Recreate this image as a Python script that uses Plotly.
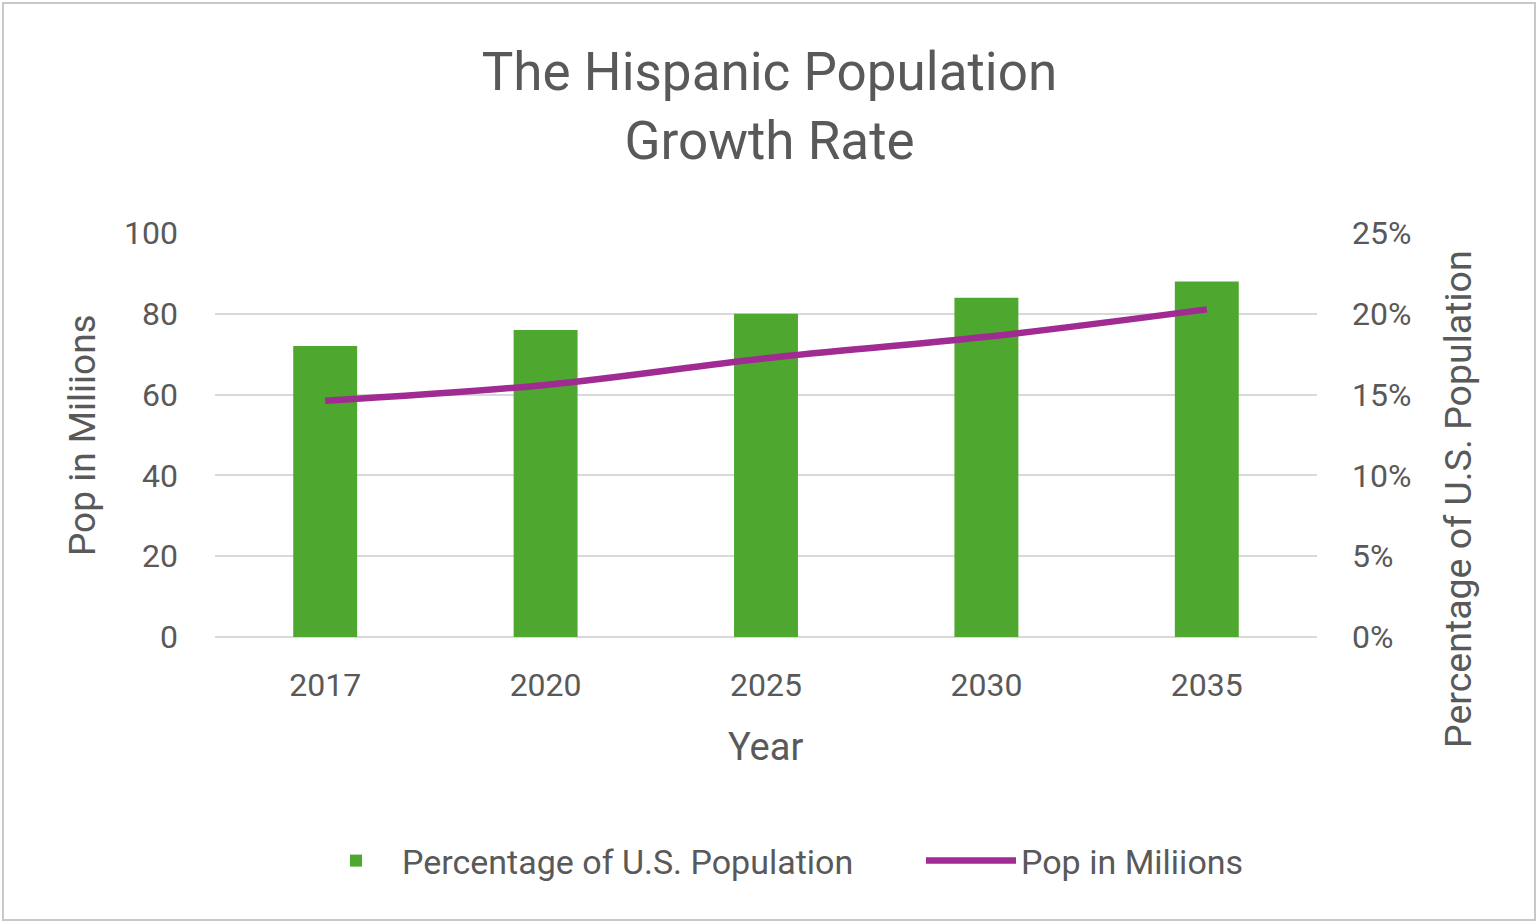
import plotly.graph_objects as go

years = ["2017", "2020", "2025", "2030", "2035"]
pct_us_population = [0.18, 0.19, 0.20, 0.21, 0.22]
pop_millions = [58.5, 62.4, 69.0, 74.3, 81.1]
left_ticks = [0, 20, 40, 60, 80, 100]
right_ticks = [0, 0.05, 0.10, 0.15, 0.20, 0.25]

W, H = 1539, 924
L, R, T, B = 215, 222, 233, 287
FONT = "Roboto"
GRAY = "#595959"

fig = go.Figure()
fig.add_trace(go.Bar(
    x=years, y=pct_us_population, name="Percentage of U.S. Population",
    marker=dict(color="#4EA72E", line=dict(width=0)), yaxis="y", legend="legend",
))
fig.add_trace(go.Scatter(
    x=years, y=pop_millions, name="Pop in Miliions", mode="lines",
    line=dict(color="#A02B93", width=6.5, shape="spline"), yaxis="y2", legend="legend2",
))

pw = W - L - R
ph = H - T - B


def px_x(x):
    return (x - L) / pw


def px_y(y):
    return 1 - (y - T) / ph


fig.add_shape(type="rect", xref="paper", yref="paper",
              x0=px_x(3), x1=px_x(W - 4), y0=px_y(H - 4), y1=px_y(3),
              line=dict(color="#C8C8C8", width=2), layer="below")

title_font = dict(size=37, color=GRAY, family=FONT)
fig.add_annotation(text="Pop in Miliions", xref="paper", yref="paper", x=px_x(82), y=px_y(435),
                   textangle=-90, showarrow=False, xanchor="center", yanchor="middle", font=title_font)
fig.add_annotation(text="Percentage of U.S. Population", xref="paper", yref="paper",
                   x=px_x(1458), y=px_y(499), textangle=-90, showarrow=False,
                   xanchor="center", yanchor="middle", font=dict(size=37.5, color=GRAY, family=FONT))
fig.add_annotation(text="Year", xref="paper", yref="paper", x=px_x(765), y=px_y(747),
                   showarrow=False, xanchor="center", yanchor="middle", font=dict(size=38, color=GRAY, family=FONT))

legend_font = dict(size=34, color=GRAY, family=FONT)
fig.update_layout(
    width=W, height=H,
    margin=dict(l=L, r=R, t=T, b=B),
    paper_bgcolor="white", plot_bgcolor="white",
    font=dict(family=FONT, color=GRAY, size=32),
    title=dict(text="The Hispanic Population<br>Growth Rate", x=0.5, xanchor="center",
               y=1 - 90 / H, yanchor="middle", yref="container",
               font=dict(size=53, color=GRAY, family=FONT)),
    bargap=0.71,
    showlegend=True,
    legend=dict(orientation="h", x=px_x(310), xanchor="left", y=px_y(861), yanchor="middle",
                font=legend_font, itemwidth=82, bgcolor="rgba(0,0,0,0)"),
    legend2=dict(orientation="h", x=px_x(921), xanchor="left", y=px_y(861), yanchor="middle",
                 font=legend_font, itemwidth=90, bgcolor="rgba(0,0,0,0)"),
    xaxis=dict(showgrid=False, showline=False, ticks="", ticklabelstandoff=26,
               tickfont=dict(size=32)),
    yaxis=dict(side="right", range=[0, 0.25], tickvals=right_ticks, tickformat=".0%",
               showgrid=True, gridcolor="#D9D9D9", gridwidth=2,
               zeroline=True, zerolinecolor="#D9D9D9", zerolinewidth=2,
               ticklabelstandoff=34, tickfont=dict(size=32)),
    yaxis2=dict(side="left", overlaying="y", range=[0, 100], tickvals=left_ticks,
                showgrid=False, zeroline=False,
                ticklabelstandoff=36, tickfont=dict(size=32)),
)

fig.write_html("out.html", config={"displayModeBar": False},
               post_script="document.body.style.margin='0';document.body.style.overflow='hidden';")
